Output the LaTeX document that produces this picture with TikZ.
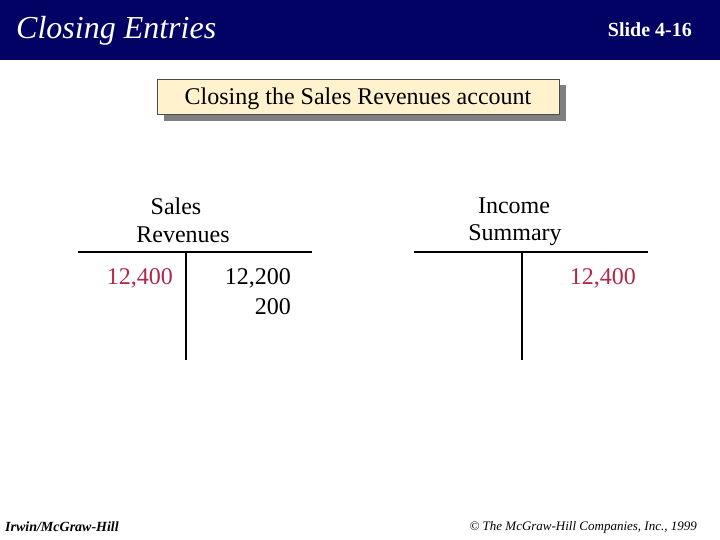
\documentclass[tikz,border=0pt]{standalone}
\usepackage{fontspec}
\setmainfont{Liberation Serif}
\usetikzlibrary{shadows}

\definecolor{bandblue}{RGB}{2,2,100}
\definecolor{boxcream}{RGB}{255,242,204}
\definecolor{amtred}{RGB}{178,40,72}

\tikzset{
  acct/.style={align=center,inner sep=0pt,font=\fontsize{24}{28}\selectfont},
  amt/.style={anchor=east,inner sep=0pt,font=\fontsize{24}{28}\selectfont},
  tline/.style={-,draw=black,line width=1.2pt},
}

\begin{document}
\begin{tikzpicture}[x=1pt,y=-1pt]
\useasboundingbox (0,0) rectangle (720,540);
\fill[white] (0,0) rectangle (720,540);
% header
\fill[bandblue] (0,0) rectangle (720,60);
\node[anchor=west,inner sep=0pt,text=white,font=\fontsize{32}{36}\selectfont\itshape] (title) at (16,31) {Closing Entries};
\node[anchor=east,inner sep=0pt,text=white,font=\fontsize{20}{24}\selectfont\bfseries] (slide) at (692,30) {Slide 4-16};

\fill[gray] (164,85) rectangle (566,121);
\node[draw=black!70,fill=boxcream,line width=0.8pt,minimum width=402pt,minimum height=35pt,inner sep=0pt,text height=16pt,text depth=0pt,font=\fontsize{24}{28}\selectfont] (topic) at (358,96.5) {Closing the Sales Revenues account};

% Sales Revenues
\node[acct] (sr1) at (176,206) {Sales};
\node[acct] (sr2) at (183,235) {Revenues};
\coordinate (srl) at (78,252);
\coordinate (srr) at (312,252);
\coordinate (srt) at (186,252);
\coordinate (srb) at (186,360);
\path [tline] (srl) edge node {} (srr);
\path [tline] (srt) edge node {} (srb);
\node[amt,text=amtred] (sr3) at (173,278) {12,400};
\node[amt] (sr4) at (291,278) {12,200};
\node[amt] (sr5) at (291,307) {200};

% Income Summary
\node[acct] (is1) at (514,206) {Income};
\node[acct] (is2) at (515,235) {Summary};
\coordinate (isl) at (414,252);
\coordinate (isr) at (648,252);
\coordinate (ist) at (522,252);
\coordinate (isb) at (522,360);
\path [tline] (isl) edge node {} (isr);
\path [tline] (ist) edge node {} (isb);
\node[amt,text=amtred] (is3) at (636,278) {12,400};

% footer
\node[anchor=west,inner sep=0pt,font=\fontsize{14}{16}\selectfont\bfseries\itshape] (pub) at (5,527) {Irwin/McGraw-Hill};
\node[anchor=east,inner sep=0pt,font=\fontsize{13}{15}\selectfont\itshape] (copy) at (697,527) {© The McGraw-Hill Companies, Inc., 1999};
\end{tikzpicture}
\end{document}
